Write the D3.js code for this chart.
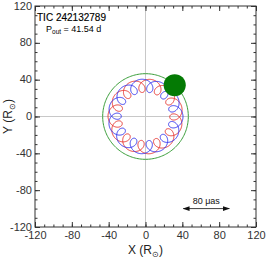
<!DOCTYPE html>
<html>
<head>
<meta charset="utf-8">
<script src="https://cdn.jsdelivr.net/npm/d3@7"></script>
<style>
    body { margin: 0; background: #fff; }
    svg { display: block; font-family: "Liberation Sans", Arial, sans-serif; }
    .tick text { fill: #333; font-size: 11px; }
</style>
</head>
<body>
<div id="chart"></div>
<script>
//Datos
const majorTicks = [-120, -80, -40, 0, 40, 80, 120];
const minorTicks = d3.range(-120, 121, 10);
const starNames = ['red', 'blue'];
const starColors = ['#e8342f', '#3333f0'];
const orbitRadius = [33.5, 33.5];     //R_sun, órbita del centro de masas interior
const innerRadius = [7.2, 7.2];       //R_sun, órbita interior
const loopAngle = [130, 114];         //grados, posición de un bucle
const periodRatio = 12;
const thirdOrbit = [46.5];            //R_sun
const thirdAngle = [47];              //grados
const thirdSize = [12];               //R_sun
const scaleBar = [41, 91, -100];      //x0, x1, y
const scaleLabel = '80 μas';
const titleText = 'TIC 242132789';
const periodText = '41.54 d';

let margin = {top: 6, right: 10, bottom: 33, left: 35},
    width = 221,
    height = 221;

let svg = d3.select('#chart')
    .append('svg')
        .attr('width', 266)
        .attr('height', 260);

let x = d3.scaleLinear().domain([-120, 120]).range([margin.left, margin.left + width]);
let y = d3.scaleLinear().domain([-120, 120]).range([margin.top + height, margin.top]);

//Líneas en cero
svg.append('line')
    .attr('x1', x(0)).attr('x2', x(0))
    .attr('y1', y(-120)).attr('y2', y(120))
    .attr('stroke', '#c8c8c8').attr('stroke-width', 1);
svg.append('line')
    .attr('x1', x(-120)).attr('x2', x(120))
    .attr('y1', y(0)).attr('y2', y(0))
    .attr('stroke', '#c8c8c8').attr('stroke-width', 1);

//Ejes con marcas hacia dentro
function ticksAxis(axisFn, scale, transform, labels, pad) {
    let g = svg.append('g').attr('transform', transform);
    g.call(axisFn(scale).tickValues(minorTicks).tickSize(-2.5).tickFormat(''));
    g.select('.domain').remove();
    let g2 = svg.append('g').attr('transform', transform);
    g2.call(axisFn(scale).tickValues(majorTicks).tickSize(-5).tickPadding(labels ? pad : 0)
        .tickFormat(labels ? function(d) { return d < 0 ? '-' + Math.abs(d) : d; } : ''));
    g2.select('.domain').remove();
    svg.selectAll('.tick line').attr('stroke', '#333');
    return g2;
}

ticksAxis(d3.axisBottom, x, 'translate(0,' + y(-120) + ')', true, 4);
ticksAxis(d3.axisTop, x, 'translate(0,' + y(120) + ')', false, 0);
ticksAxis(d3.axisLeft, y, 'translate(' + x(-120) + ',0)', true, 3)
    .selectAll('text').attr('dy', '0.28em');
ticksAxis(d3.axisRight, y, 'translate(' + x(120) + ',0)', false, 0);

//Marco
svg.append('rect')
    .attr('x', x(-120)).attr('y', y(120))
    .attr('width', width).attr('height', height)
    .attr('fill', 'none').attr('stroke', '#333').attr('stroke-width', 1);

//Órbita del tercer cuerpo
svg.append('path')
    .datum(d3.range(0, 361, 2))
    .attr('fill', 'none')
    .attr('stroke', '#3a9e3a')
    .attr('stroke-width', 1)
    .attr('d', d3.line()
        .x(function(d) { return x(thirdOrbit[0] * Math.cos(d * Math.PI / 180)); })
        .y(function(d) { return y(thirdOrbit[0] * Math.sin(d * Math.PI / 180)); }));

//Órbitas de la binaria interior
starNames.forEach(function(name, i) {
    let th0 = loopAngle[i] * Math.PI / 180;
    let phase = Math.PI + th0 * (1 - periodRatio);
    let pts = d3.range(0, 1441).map(function(j) {
        let th = j / 1440 * 2 * Math.PI;
        return [orbitRadius[i] * Math.cos(th) + innerRadius[i] * Math.cos(periodRatio * th + phase),
                orbitRadius[i] * Math.sin(th) + innerRadius[i] * Math.sin(periodRatio * th + phase)];
    });
    svg.append('path')
        .datum(pts)
        .attr('class', 'orbit ' + name)
        .attr('fill', 'none')
        .attr('stroke', starColors[i])
        .attr('stroke-width', 1)
        .attr('d', d3.line()
            .x(function(d) { return x(d[0]); })
            .y(function(d) { return y(d[1]); }));
});

//Tercer cuerpo
svg.append('circle')
    .attr('cx', x(thirdOrbit[0] * Math.cos(thirdAngle[0] * Math.PI / 180)))
    .attr('cy', y(thirdOrbit[0] * Math.sin(thirdAngle[0] * Math.PI / 180)))
    .attr('r', x(thirdSize[0]) - x(0))
    .attr('fill', '#047a04');

//Barra de escala
let defs = svg.append('defs');
defs.append('marker')
    .attr('id', 'arrow')
    .attr('viewBox', '0 0 10 10')
    .attr('refX', 9).attr('refY', 5)
    .attr('markerWidth', 7).attr('markerHeight', 7)
    .attr('markerUnits', 'userSpaceOnUse')
    .attr('orient', 'auto-start-reverse')
    .append('path')
        .attr('d', 'M0,1.5 L10,5 L0,8.5 Z')
        .attr('fill', '#111');
svg.append('line')
    .attr('x1', x(scaleBar[0])).attr('x2', x(scaleBar[1]))
    .attr('y1', y(scaleBar[2])).attr('y2', y(scaleBar[2]))
    .attr('stroke', '#111').attr('stroke-width', 0.8)
    .attr('marker-start', 'url(#arrow)')
    .attr('marker-end', 'url(#arrow)');
svg.append('text')
    .attr('x', x((scaleBar[0] + scaleBar[1]) / 2))
    .attr('y', y(scaleBar[2]) - 5)
    .attr('text-anchor', 'middle')
    .attr('font-size', 9)
    .attr('fill', '#111')
    .text(scaleLabel);

//Textos
svg.append('text')
    .attr('x', 37).attr('y', 21)
    .attr('font-size', 10)
    .attr('fill', '#000')
    .attr('stroke', '#000').attr('stroke-width', 0.15)
    .text(titleText);
let pt = svg.append('text')
    .attr('x', 46).attr('y', 32)
    .attr('font-size', 9)
    .attr('fill', '#000');
pt.append('tspan').text('P');
pt.append('tspan').attr('font-size', 6.5).attr('dy', 2).text('out');
pt.append('tspan').attr('dy', -2).text(' = ' + periodText);

//Títulos de ejes
let xt = svg.append('text')
    .attr('x', x(0)).attr('y', 254)
    .attr('text-anchor', 'middle')
    .attr('font-size', 12)
    .attr('fill', '#222');
xt.append('tspan').text('X (R');
xt.append('tspan').attr('font-size', 8).attr('dy', 3).text('⊙');
xt.append('tspan').attr('dy', -3).text(')');

let yt = svg.append('text')
    .attr('transform', 'translate(12,' + y(0) + ') rotate(-90)')
    .attr('text-anchor', 'middle')
    .attr('font-size', 12)
    .attr('fill', '#222');
yt.append('tspan').text('Y (R');
yt.append('tspan').attr('font-size', 8).attr('dy', 3).text('⊙');
yt.append('tspan').attr('dy', -3).text(')');
</script>
</body>
</html>
